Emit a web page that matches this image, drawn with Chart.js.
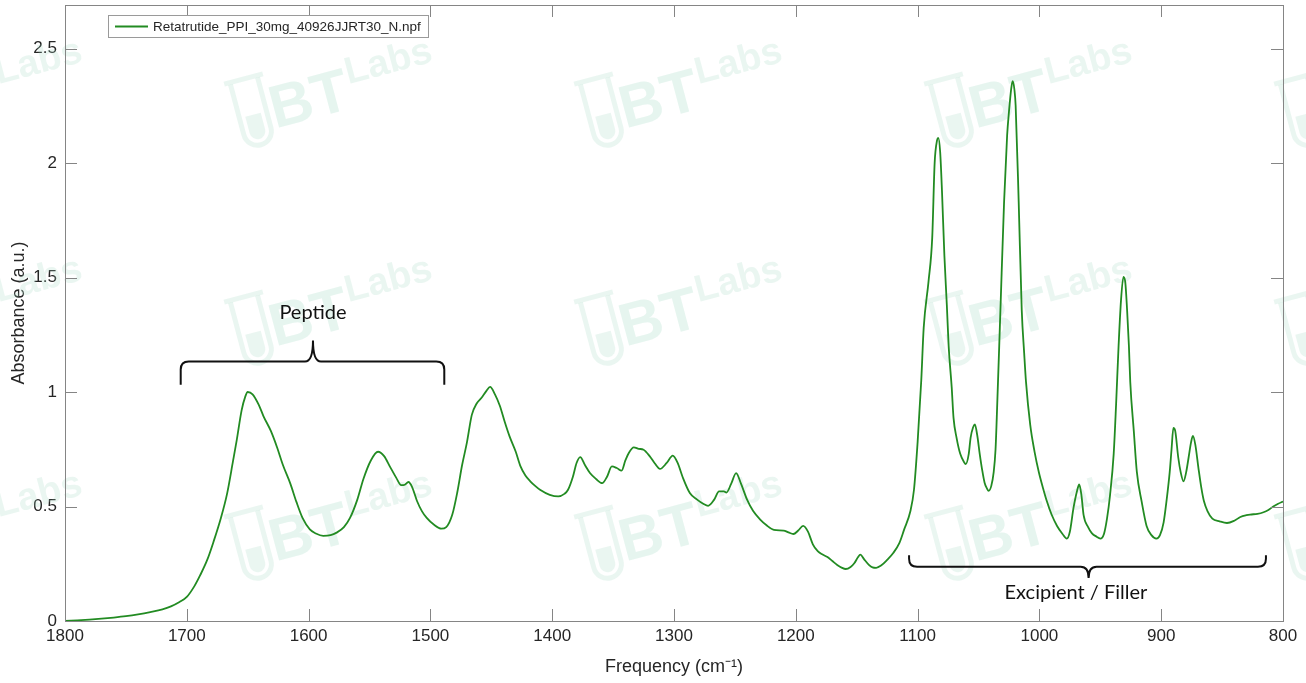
<!DOCTYPE html>
<html>
<head>
<meta charset="utf-8">
<script src="https://cdn.jsdelivr.net/npm/chart.js@4.4.1/dist/chart.umd.min.js"></script>
<style>
  html, body { margin: 0; padding: 0; background: #ffffff; }
  #wrap { width: 1306px; height: 683px; }
</style>
</head>
<body>
<div id="wrap"><canvas id="c" width="1306" height="683"></canvas></div>
<script>
// ---- data ----
const seriesLabel = 'Retatrutide_PPI_30mg_40926JJRT30_N.npf';
const freqs = [
  1800,1790,1780,1770,1760,1750,1740,1730,1720,1713,1706,1700,1694,1689,1683,1678,1672,1667,1662,1659,
  1655,1652,1650,1646,1641,1637,1631,1626,1621,1615,1610,1605,1599,1594,1588,1582,1577,1571,1566,1560,
  1555,1549,1543,1538,1533,1528,1524,1521,1518,1515,1511,1507,1503,1497,1491,1487,1482,1478,1474,1470,
  1466,1462,1458,1454,1451,1447,1443,1439,1435,1430,1426,1422,1418,1414,1410,1402,1395,1390,1387,1383,
  1380,1377,1373,1369,1364,1359,1355,1351,1347,1343,1340,1337,1333,1329,1325,1320,1316,1311.5,1306,1301,
  1297,1293,1287,1281,1276,1272,1267,1263,1259,1257,1253,1249,1245,1240,1235,1229,1224,1218,1210,1206,
  1202,1198,1194,1190,1186,1182,1178,1174,1170,1166,1162,1159,1155,1152,1149,1147,1144,1140,1137,1134,
  1130,1125,1120,1115,1111,1106,1103,1100,1097,1095,1091,1088,1086,1084,1083,1081.5,1080,1078,1076,1074.5,
  1072,1070.5,1068,1065,1062,1060.5,1058,1056.5,1054.5,1053,1051,1049,1047,1045,1043,1041.7,1039.5,1037.5,1036,1035,
  1032,1029,1026.5,1025,1023,1022,1020.5,1019.5,1017,1014.5,1012.5,1011,1007.5,1004,1000.5,997,994,990,985.5,981,
  977.5,975,972,969,967.3,965.5,963.7,960,957,953,950,947,944.5,942,939,937,935,933,931,929.5,
  928,926.5,925.4,922.5,920,916,912,908,904,901,898,895.5,893,891.5,890,888.5,886,884,881.7,879.5,
  877.5,875.5,874,872,869.4,867,865,862,858,852,846,840,835,830,827,821,816,812,808,804,800
];
const absorbance = [
  0.000,0.003,0.006,0.010,0.015,0.021,0.029,0.039,0.051,0.064,0.083,0.105,0.150,0.200,0.270,0.347,0.450,0.554,0.700,0.790,
  0.920,0.980,1.000,0.990,0.945,0.894,0.830,0.760,0.680,0.600,0.520,0.450,0.400,0.382,0.372,0.375,0.386,0.410,0.450,0.530,
  0.620,0.700,0.739,0.720,0.672,0.625,0.593,0.595,0.607,0.585,0.524,0.480,0.450,0.420,0.403,0.410,0.465,0.560,0.680,0.780,
  0.900,0.950,0.975,1.005,1.022,0.990,0.940,0.870,0.806,0.740,0.675,0.635,0.610,0.590,0.573,0.551,0.544,0.555,0.573,0.630,
  0.690,0.716,0.680,0.646,0.620,0.602,0.630,0.675,0.668,0.657,0.700,0.735,0.758,0.752,0.748,0.720,0.690,0.664,0.690,0.722,
  0.690,0.630,0.559,0.530,0.512,0.503,0.530,0.566,0.566,0.561,0.600,0.646,0.600,0.530,0.480,0.442,0.418,0.398,0.395,0.387,
  0.380,0.395,0.415,0.390,0.335,0.305,0.290,0.279,0.262,0.245,0.232,0.227,0.236,0.252,0.278,0.290,0.270,0.245,0.234,0.232,
  0.242,0.267,0.297,0.340,0.400,0.478,0.572,0.780,1.050,1.280,1.484,1.673,2.000,2.100,2.110,2.050,1.880,1.595,1.380,1.200,
  1.020,0.887,0.800,0.730,0.695,0.685,0.730,0.800,0.845,0.858,0.810,0.730,0.660,0.604,0.578,0.568,0.590,0.651,0.750,0.887,
  1.358,1.830,2.120,2.223,2.330,2.357,2.320,2.250,1.830,1.358,1.170,1.044,0.855,0.740,0.651,0.580,0.525,0.465,0.415,0.380,
  0.360,0.390,0.494,0.570,0.596,0.550,0.462,0.410,0.384,0.368,0.360,0.380,0.447,0.550,0.730,0.950,1.200,1.400,1.503,1.480,
  1.358,1.200,1.044,0.830,0.651,0.520,0.415,0.375,0.360,0.375,0.431,0.530,0.651,0.750,0.843,0.830,0.714,0.650,0.610,0.650,
  0.714,0.780,0.808,0.770,0.667,0.580,0.525,0.480,0.447,0.435,0.428,0.438,0.454,0.462,0.465,0.468,0.475,0.485,0.500,0.512,0.522
];
const xTickValues = [1800,1700,1600,1500,1400,1300,1200,1100,1000,900,800];
const yTickValues = [0,0.5,1,1.5,2,2.5];
const xTitle = 'Frequency (cm\u207B\u00B9)';
const yTitle = 'Absorbance (a.u.)';
// annotation braces (data space)
const braceTexts = ['Peptide', 'Excipient / Filler'];
const braceFrom  = [1705, 1107];
const braceTo    = [1488.6, 814];
const braceTipX  = [1596.4, 959.6];
const braceLineY = [1.133, 0.237];
const braceEndY  = [1.032, 0.287];
const braceTipY  = [1.225, 0.188];
const braceTextX = [1596.4, 970];
const braceTextY = [1.347, 0.125];
const watermarkText = ['BT', 'Labs'];

const pts = freqs.map((f, i) => ({ x: f, y: absorbance[i] }));

const FONT = "'Liberation Sans', Arial, Helvetica, sans-serif";
const AXIS_COLOR = '#858585';
const TEXT_COLOR = '#262626';

function drawBrace(ctx, x1, x2, xc, yl, ye, yt, r) {
  const s = Math.sign(ye - yl);
  ctx.beginPath();
  ctx.moveTo(x1, ye);
  ctx.lineTo(x1, yl + s * r);
  ctx.quadraticCurveTo(x1, yl, x1 + r, yl);
  ctx.lineTo(xc - r, yl);
  ctx.quadraticCurveTo(xc, yl, xc, yt);
  ctx.quadraticCurveTo(xc, yl, xc + r, yl);
  ctx.lineTo(x2 - r, yl);
  ctx.quadraticCurveTo(x2, yl, x2, yl + s * r);
  ctx.lineTo(x2, ye);
  ctx.stroke();
}

function drawLogo(ctx, x, y) {
  ctx.save();
  ctx.translate(x, y);
  ctx.rotate(-0.26);
  const c = 'rgba(160,215,192,0.22)';
  ctx.strokeStyle = c;
  ctx.lineWidth = 5;
  ctx.beginPath();
  ctx.moveTo(-6, -30);
  ctx.lineTo(-6, 22);
  ctx.arc(8, 22, 14, Math.PI, 0, true);
  ctx.lineTo(22, -30);
  ctx.stroke();
  ctx.beginPath();
  ctx.moveTo(-12, -32); ctx.lineTo(28, -32);
  ctx.stroke();
  ctx.fillStyle = c;
  ctx.beginPath();
  ctx.moveTo(0, 5); ctx.lineTo(0, 22); ctx.arc(8, 22, 8, Math.PI, 0, true); ctx.lineTo(16, 5);
  ctx.closePath(); ctx.fill();
  ctx.fillStyle = 'rgba(160,215,192,0.26)';
  ctx.font = "bold 60px " + FONT;
  ctx.textBaseline = 'alphabetic';
  ctx.textAlign = 'left';
  ctx.fillText(watermarkText[0], 26, 24);
  ctx.fillStyle = 'rgba(160,215,192,0.22)';
  ctx.font = "bold 38px " + FONT;
  ctx.fillText(watermarkText[1], 108, 0);
  ctx.restore();
}

const decorPlugin = {
  id: 'decor',
  beforeDatasetsDraw(chart) {
    const ctx = chart.ctx;
    ctx.save();
    const cols = [-122, 228, 578, 928, 1278];
    const rows = [112, 330, 545];
    rows.forEach(ry => cols.forEach(cx => drawLogo(ctx, cx + 16, ry)));
    ctx.restore();
  },
  afterDatasetsDraw(chart) {
    const ctx = chart.ctx;
    const a = chart.chartArea;
    const xs = chart.scales.x, ys = chart.scales.y;
    ctx.save();
    // box
    ctx.strokeStyle = AXIS_COLOR;
    ctx.lineWidth = 1;
    ctx.strokeRect(Math.round(a.left) + 0.5, Math.round(a.top) + 0.5,
                   Math.round(a.right - a.left), Math.round(a.bottom - a.top));
    // inward ticks
    const TL = 12;
    ctx.beginPath();
    xs.ticks.forEach(t => {
      const px = Math.round(xs.getPixelForValue(t.value)) + 0.5;
      ctx.moveTo(px, a.bottom); ctx.lineTo(px, a.bottom - TL);
      ctx.moveTo(px, a.top); ctx.lineTo(px, a.top + TL);
    });
    ys.ticks.forEach(t => {
      const py = Math.round(ys.getPixelForValue(t.value)) + 0.5;
      ctx.moveTo(a.left, py); ctx.lineTo(a.left + TL, py);
      ctx.moveTo(a.right, py); ctx.lineTo(a.right - TL, py);
    });
    ctx.stroke();

    // legend box
    const ds = chart.data.datasets[0];
    const lx = a.left + 43, ly = a.top + 10, lw = 320, lh = 22;
    ctx.fillStyle = '#ffffff';
    ctx.fillRect(lx, ly, lw, lh);
    ctx.strokeStyle = '#9a9a9a';
    ctx.strokeRect(lx + 0.5, ly + 0.5, lw, lh);
    ctx.strokeStyle = ds.borderColor;
    ctx.lineWidth = 2;
    ctx.beginPath();
    ctx.moveTo(lx + 7, ly + 11.5); ctx.lineTo(lx + 40, ly + 11.5);
    ctx.stroke();
    ctx.fillStyle = TEXT_COLOR;
    ctx.font = "13.5px " + FONT;
    ctx.textAlign = 'left';
    ctx.textBaseline = 'middle';
    ctx.fillText(ds.label, lx + 45, ly + 12);

    // braces + labels
    ctx.strokeStyle = '#111111';
    ctx.lineWidth = 2;
    for (let i = 0; i < braceTexts.length; i++) {
      drawBrace(ctx,
        xs.getPixelForValue(braceFrom[i]), xs.getPixelForValue(braceTo[i]),
        xs.getPixelForValue(braceTipX[i]),
        ys.getPixelForValue(braceLineY[i]), ys.getPixelForValue(braceEndY[i]),
        ys.getPixelForValue(braceTipY[i]), 8);
      ctx.fillStyle = '#111111';
      ctx.font = "20px Lato, 'Open Sans', sans-serif";
      ctx.textAlign = 'center';
      ctx.textBaseline = 'middle';
      ctx.fillText(braceTexts[i], xs.getPixelForValue(braceTextX[i]), ys.getPixelForValue(braceTextY[i]));
    }
    ctx.restore();
  }
};

new Chart(document.getElementById('c'), {
  type: 'line',
  data: {
    datasets: [{
      label: seriesLabel,
      data: pts,
      borderColor: '#228B22',
      borderWidth: 1.8,
      pointRadius: 0,
      fill: false,
      cubicInterpolationMode: 'monotone'
    }]
  },
  options: {
    responsive: false,
    animation: false,
    devicePixelRatio: 1,
    layout: { padding: { top: 5, right: 23, left: 0, bottom: 0 } },
    plugins: { legend: { display: false }, tooltip: { enabled: false } },
    scales: {
      x: {
        type: 'linear',
        reverse: true,
        min: 800, max: 1800,
        afterBuildTicks: s => { s.ticks = xTickValues.map(v => ({ value: v })); },
        afterFit: s => { s.height = 62; s.paddingLeft = 0; s.paddingRight = 0; },
        grid: { display: false, drawTicks: false },
        border: { display: false },
        ticks: { color: TEXT_COLOR, font: { family: FONT, size: 17 }, padding: 5, maxRotation: 0,
                 callback: v => String(v) },
        title: { display: true, text: xTitle, color: TEXT_COLOR,
                 font: { family: FONT, size: 18 }, padding: { top: 0, bottom: 5 } }
      },
      y: {
        min: 0, max: 2.69,
        afterBuildTicks: s => { s.ticks = yTickValues.map(v => ({ value: v })); },
        afterFit: s => { s.width = 65; s.paddingTop = 0; s.paddingBottom = 0; },
        grid: { display: false, drawTicks: false },
        border: { display: false },
        ticks: { color: TEXT_COLOR, font: { family: FONT, size: 17 }, padding: 8,
                 callback: v => String(v) },
        title: { display: true, text: yTitle, color: TEXT_COLOR,
                 font: { family: FONT, size: 18 }, padding: { top: 8, bottom: 0 } }
      }
    }
  },
  plugins: [decorPlugin]
});
</script>
</body>
</html>
